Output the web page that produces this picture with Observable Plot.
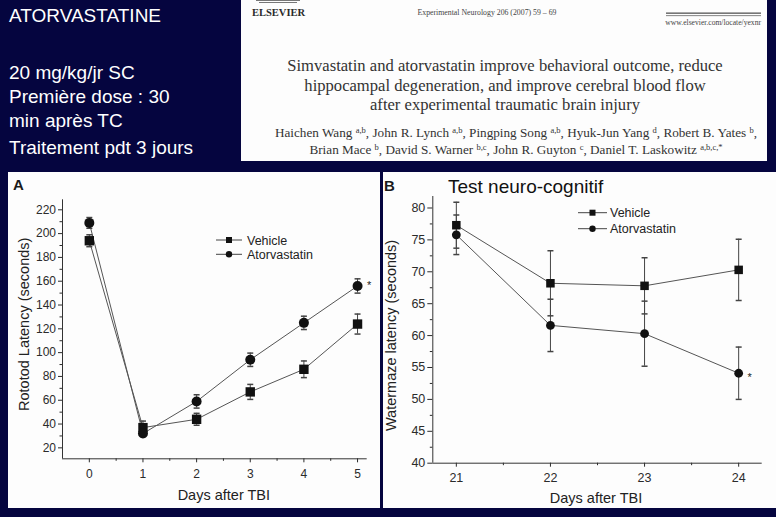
<!DOCTYPE html>
<html><head><meta charset="utf-8">
<script src="https://cdn.jsdelivr.net/npm/d3@7"></script>
<script src="https://cdn.jsdelivr.net/npm/@observablehq/plot@0.6"></script>
<style>
html,body{margin:0;padding:0;}
body{width:776px;height:517px;background:#05053f;position:relative;overflow:hidden;font-family:"Liberation Sans",Arial,sans-serif;}
#bg{position:absolute;left:0;top:0;}
.plot{position:absolute;}
.plot svg{display:block;}
</style></head><body>
<svg id="bg" width="776" height="517" xmlns="http://www.w3.org/2000/svg">
  <rect x="0" y="0" width="776" height="517" fill="#05053f"/>
  <!-- left text block -->
  <g font-family="Liberation Sans, Arial, sans-serif" font-size="19" fill="#ffffff">
    <text x="9" y="22">ATORVASTATINE</text>
    <text x="9" y="79">20 mg/kg/jr SC</text>
    <text x="9" y="103">Première dose : 30</text>
    <text x="9" y="127">min après TC</text>
    <text x="9" y="154">Traitement pdt 3 jours</text>
  </g>
  <!-- article header panel -->
  <rect x="241" y="0" width="526" height="161" fill="#fdfdfd"/>
  <g fill="#777"><rect x="256" y="0" width="44" height="1"/><rect x="259" y="2" width="38" height="1"/></g>
  <g font-family="Liberation Serif, Times New Roman, serif" fill="#2a2a2a">
    <text x="252" y="15.5" font-size="10.5" font-weight="bold">ELSEVIER</text>
    <text x="487" y="14.5" font-size="7.8" text-anchor="middle" fill="#444">Experimental Neurology 206 (2007) 59 – 69</text>
    <rect x="666" y="12.5" width="95" height="1.3" fill="#555"/>
    <rect x="666" y="15.3" width="95" height="0.8" fill="#666"/>
    <text x="761" y="24.5" font-size="7.6" text-anchor="end" fill="#444">www.elsevier.com/locate/yexnr</text>
    <g font-size="16.6" text-anchor="middle" fill="#333">
      <text x="505" y="71">Simvastatin and atorvastatin improve behavioral outcome, reduce</text>
      <text x="505" y="90.5">hippocampal degeneration, and improve cerebral blood flow</text>
      <text x="505" y="109.5">after experimental traumatic brain injury</text>
    </g>
    <g font-size="13.2" text-anchor="middle" fill="#333">
      <text x="516" y="137">Haichen Wang <tspan font-size="8.5" dy="-4.5">a,b</tspan><tspan dy="4.5">, John R. Lynch </tspan><tspan font-size="8.5" dy="-4.5">a,b</tspan><tspan dy="4.5">, Pingping Song </tspan><tspan font-size="8.5" dy="-4.5">a,b</tspan><tspan dy="4.5">, Hyuk-Jun Yang </tspan><tspan font-size="8.5" dy="-4.5">d</tspan><tspan dy="4.5">, Robert B. Yates </tspan><tspan font-size="8.5" dy="-4.5">b</tspan><tspan dy="4.5">,</tspan></text>
      <text x="516" y="154">Brian Mace <tspan font-size="8.5" dy="-4.5">b</tspan><tspan dy="4.5">, David S. Warner </tspan><tspan font-size="8.5" dy="-4.5">b,c</tspan><tspan dy="4.5">, John R. Guyton </tspan><tspan font-size="8.5" dy="-4.5">c</tspan><tspan dy="4.5">, Daniel T. Laskowitz </tspan><tspan font-size="8.5" dy="-4.5">a,b,c,*</tspan></text>
    </g>
  </g>
  <!-- chart panels -->
  <rect x="8" y="172" width="372" height="336" fill="#fdfdfd"/>
  <rect x="383" y="172" width="393" height="336" fill="#fdfdfd"/>
  <g font-family="Liberation Sans, Arial, sans-serif" fill="#1a1a1a">
    <text x="13" y="190" font-size="15" font-weight="bold">A</text>
    <text x="384" y="190.5" font-size="15" font-weight="bold">B</text>
    <text x="448" y="192.7" font-size="19" fill="#111">Test neuro-cognitif</text>
  </g>
  <!-- legends -->
  <g id="legA" font-family="Liberation Sans, Arial, sans-serif" font-size="12.5" fill="#222">
    <line x1="216" x2="242" y1="240" y2="240" stroke="#444"/>
    <rect x="226" y="237" width="6" height="6" fill="#111"/>
    <text x="247" y="244.5">Vehicle</text>
    <line x1="216" x2="242" y1="254.3" y2="254.3" stroke="#444"/>
    <circle cx="229" cy="254.3" r="3.2" fill="#111"/>
    <text x="247" y="258.8">Atorvastatin</text>
  </g>
  <g id="legB" font-family="Liberation Sans, Arial, sans-serif" font-size="12.5" fill="#222">
    <line x1="578" x2="607" y1="212.7" y2="212.7" stroke="#444"/>
    <rect x="589.5" y="209.7" width="6" height="6" fill="#111"/>
    <text x="610" y="217.2">Vehicle</text>
    <line x1="578" x2="607" y1="228.7" y2="228.7" stroke="#444"/>
    <circle cx="592.5" cy="228.7" r="3.2" fill="#111"/>
    <text x="610" y="233.2">Atorvastatin</text>
  </g>
</svg>
<div id="plotA" class="plot" style="left:8px;top:172px;"></div>
<div id="plotB" class="plot" style="left:383px;top:172px;"></div>
<script>
// ---- Data: panel A (Rotarod) ----
const seriesNames = ["Vehicle", "Atorvastatin"];
const daysA = [0, 1, 2, 3, 4, 5];
const vehicleA = [194, 37, 44, 67, 86, 124];
const vehicleErrA = [5, 5.5, 5, 6.3, 7, 8.4];
const atorvaA = [209, 32, 59, 94, 125, 156];
const atorvaErrA = [4.5, 2.5, 5.6, 5.6, 5.6, 6];
const starA = [false, false, false, false, false, true];
const yTicksA = [20, 40, 60, 80, 100, 120, 140, 160, 180, 200, 220];
const yMinorA = [30, 50, 70, 90, 110, 130, 150, 170, 190, 210];
const xTicksA = [0, 1, 2, 3, 4, 5];
const xMinorA = [0.5, 1.5, 2.5, 3.5, 4.5];

// ---- Data: panel B (Water maze) ----
const daysB = [21, 22, 23, 24];
const vehicleB = [77.3, 68.2, 67.8, 70.3];
const vehicleErrB = [3.6, 5.1, 4.4, 4.8];
const atorvaB = [75.8, 61.6, 60.3, 54.1];
const atorvaErrB = [3.1, 4.1, 5.1, 4.1];
const starB = [false, false, false, true];
const yTicksB = [40, 45, 50, 55, 60, 65, 70, 75, 80];
const yMinorB = [42.5, 47.5, 52.5, 57.5, 62.5, 67.5, 72.5, 77.5];
const xTicksB = [21, 22, 23, 24];
const xMinorB = [21.5, 22.5, 23.5];

function buildRows(days, veh, vehErr, ator, atorErr, star) {
  const rows = [];
  days.forEach((d, i) => {
    rows.push({day: d, series: seriesNames[0], v: veh[i], lo: veh[i] - vehErr[i], hi: veh[i] + vehErr[i], star: false});
    rows.push({day: d, series: seriesNames[1], v: ator[i], lo: ator[i] - atorErr[i], hi: ator[i] + atorErr[i], star: star[i]});
  });
  return rows;
}

const capSymbol = {draw(ctx, size) { const w = Math.sqrt(size / Math.PI); ctx.moveTo(-w, 0); ctx.lineTo(w, 0); }};
const intFmt = d3.format("d");

function panel(o) {
  const rows = buildRows(o.days, o.veh, o.vehErr, o.ator, o.atorErr, o.star);
  const x0 = o.xDomain[0], y0 = o.yDomain[0];
  return Plot.plot({
    width: o.width, height: o.height,
    marginLeft: o.ml, marginRight: o.mr, marginTop: o.mt, marginBottom: o.mb,
    x: {domain: o.xDomain}, y: {domain: o.yDomain},
    style: {background: "transparent", fontFamily: '"Liberation Sans", Arial, sans-serif', color: "#2b2b2b", overflow: "visible"},
    marks: [
      Plot.axisY({ticks: o.yTicks, tickSize: o.yTickSize, tickPadding: 2.5, tickFormat: intFmt, fontSize: o.tickFont, label: null}),
      Plot.axisY({ticks: o.yMinor, tickSize: 2.5, tickFormat: () => "", label: null}),
      Plot.axisX({ticks: o.xTicks, tickSize: 4, tickPadding: o.xPad, tickFormat: intFmt, fontSize: o.tickFont, label: null}),
      Plot.axisX({ticks: o.xMinor, tickSize: 2.5, tickFormat: () => "", label: null}),
      Plot.ruleX([x0], {stroke: "#333"}),
      Plot.ruleY([y0], {stroke: "#333"}),
      Plot.line(rows, {x: "day", y: "v", z: "series", stroke: "#555", strokeWidth: 1}),
      Plot.ruleX(rows, {x: "day", y1: "lo", y2: "hi", stroke: "#444"}),
      Plot.dot(rows, {x: "day", y: "lo", symbol: capSymbol, r: 3, stroke: "#444", fill: "none"}),
      Plot.dot(rows, {x: "day", y: "hi", symbol: capSymbol, r: 3, stroke: "#444", fill: "none"}),
      Plot.dot(rows.filter(d => d.series === seriesNames[0]), {x: "day", y: "v", symbol: "square", r: o.rSq, fill: "#111", stroke: "none"}),
      Plot.dot(rows.filter(d => d.series === seriesNames[1]), {x: "day", y: "v", symbol: "circle", r: o.rCi, fill: "#111", stroke: "none"}),
      Plot.text(rows.filter(d => d.star), {x: "day", y: "v", text: () => "*", dx: o.starDx, dy: o.starDy, fontSize: 11, fill: "#222"}),
      Plot.text([o.xLabel], {frameAnchor: "bottom", textAnchor: "middle", lineAnchor: "bottom", dx: o.xlDx, dy: o.xlDy, fontSize: 14.5, fill: "#222"}),
      Plot.text([o.yLabel], {frameAnchor: "left", textAnchor: "middle", lineAnchor: "middle", rotate: -90, dx: o.ylDx, dy: o.ylDy, fontSize: 14.5, fill: "#222"})
    ]
  });
}

document.getElementById("plotA").append(panel({
  days: daysA, veh: vehicleA, vehErr: vehicleErrA, ator: atorvaA, atorErr: atorvaErrA, star: starA,
  width: 372, height: 336, ml: 54, mr: 13.3, mt: 27.3, mb: 49.7,
  xDomain: [-0.5, 5.18], yDomain: [10.8, 228.4],
  yTicks: yTicksA, yMinor: yMinorA, xTicks: xTicksA, xMinor: xMinorA,
  yTickSize: 4, xPad: 6.5, tickFont: 12,
  rSq: 5.3, rCi: 5,
  starDx: 11.7, starDy: -1,
  xLabel: "Days after TBI", xlDx: 9, xlDy: 41,
  yLabel: "Rototod Latency (seconds)", ylDx: -38, ylDy: -5
}));

document.getElementById("plotB").append(panel({
  days: daysB, veh: vehicleB, vehErr: vehicleErrB, ator: atorvaB, atorErr: atorvaErrB, star: starB,
  width: 393, height: 336, ml: 49.3, mr: 14.3, mt: 24, mb: 45.3,
  xDomain: [20.75, 24.25], yDomain: [40, 81.8],
  yTicks: yTicksB, yMinor: yMinorB, xTicks: xTicksB, xMinor: xMinorB,
  yTickSize: 5, xPad: 5.5, tickFont: 12.5,
  rSq: 4.8, rCi: 4.4,
  starDx: 11, starDy: 4.5,
  xLabel: "Days after TBI", xlDx: -1.5, xlDy: 40,
  yLabel: "Watermaze latency (seconds)", ylDx: -41.8, ylDy: 5.6
}));
</script>
</body></html>
